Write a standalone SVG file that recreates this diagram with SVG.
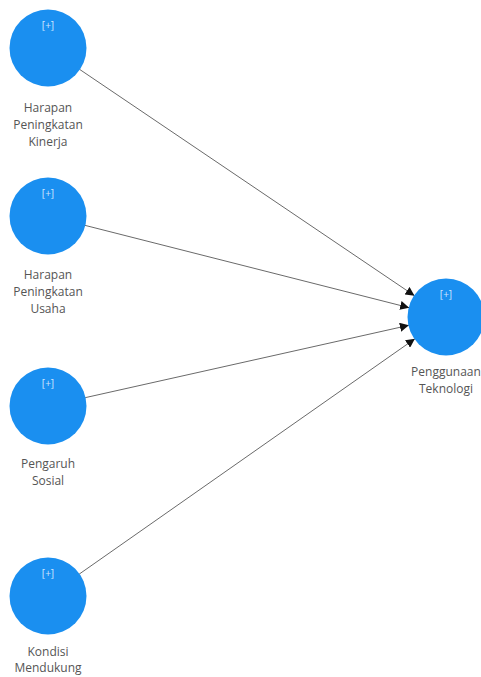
<svg xmlns="http://www.w3.org/2000/svg" width="481" height="677" viewBox="0 0 481 677">
<style>
.n{fill:#1a8ff0;}
.p{font-family:"Open Sans","Noto Sans",sans-serif;font-size:10px;fill:#cfe6ff;text-anchor:middle;}
.l{font-family:"Open Sans","Noto Sans",sans-serif;font-size:12px;fill:#555;text-anchor:middle;}
.c{stroke:#6a6a6a;stroke-width:1;fill:none;marker-end:url(#ah);}
</style>
<defs>
<marker id="ah" viewBox="0 0 10 10" refX="10" refY="5" markerWidth="9" markerHeight="9" markerUnits="userSpaceOnUse" orient="auto">
<path d="M0,0 L10,5 L0,10 z" fill="#111"/>
</marker>
</defs>
<rect width="481" height="677" fill="#fff"/>
<g id="connectors">
<line class="c" x1="79.5" y1="69.3" x2="414.5" y2="295.7"/>
<line class="c" x1="84.8" y1="225.3" x2="409.2" y2="307.7"/>
<line class="c" x1="85.1" y1="397.7" x2="408.9" y2="325.3"/>
<line class="c" x1="79.1" y1="574.2" x2="414.9" y2="338.8"/>
</g>
<g id="n1">
<circle class="n" cx="48" cy="48" r="38.5"/>
<text class="p" x="48" y="29">[+]</text>
<text class="l" x="48" y="112">Harapan</text>
<text class="l" x="48" y="129">Peningkatan</text>
<text class="l" x="48" y="146">Kinerja</text>
</g>
<g id="n2">
<circle class="n" cx="48" cy="216" r="38.5"/>
<text class="p" x="48" y="197">[+]</text>
<text class="l" x="48" y="279">Harapan</text>
<text class="l" x="48" y="296">Peningkatan</text>
<text class="l" x="48" y="313">Usaha</text>
</g>
<g id="n3">
<circle class="n" cx="48" cy="406" r="38.5"/>
<text class="p" x="48" y="387">[+]</text>
<text class="l" x="48" y="468">Pengaruh</text>
<text class="l" x="48" y="485">Sosial</text>
</g>
<g id="n4">
<circle class="n" cx="48" cy="596" r="38.5"/>
<text class="p" x="48" y="577">[+]</text>
<text class="l" x="48" y="656">Kondisi</text>
<text class="l" x="48" y="672">Mendukung</text>
</g>
<g id="n5">
<circle class="n" cx="446" cy="317" r="38.5"/>
<text class="p" x="446" y="298">[+]</text>
<text class="l" x="446" y="376">Penggunaan</text>
<text class="l" x="446" y="393">Teknologi</text>
</g>
</svg>
